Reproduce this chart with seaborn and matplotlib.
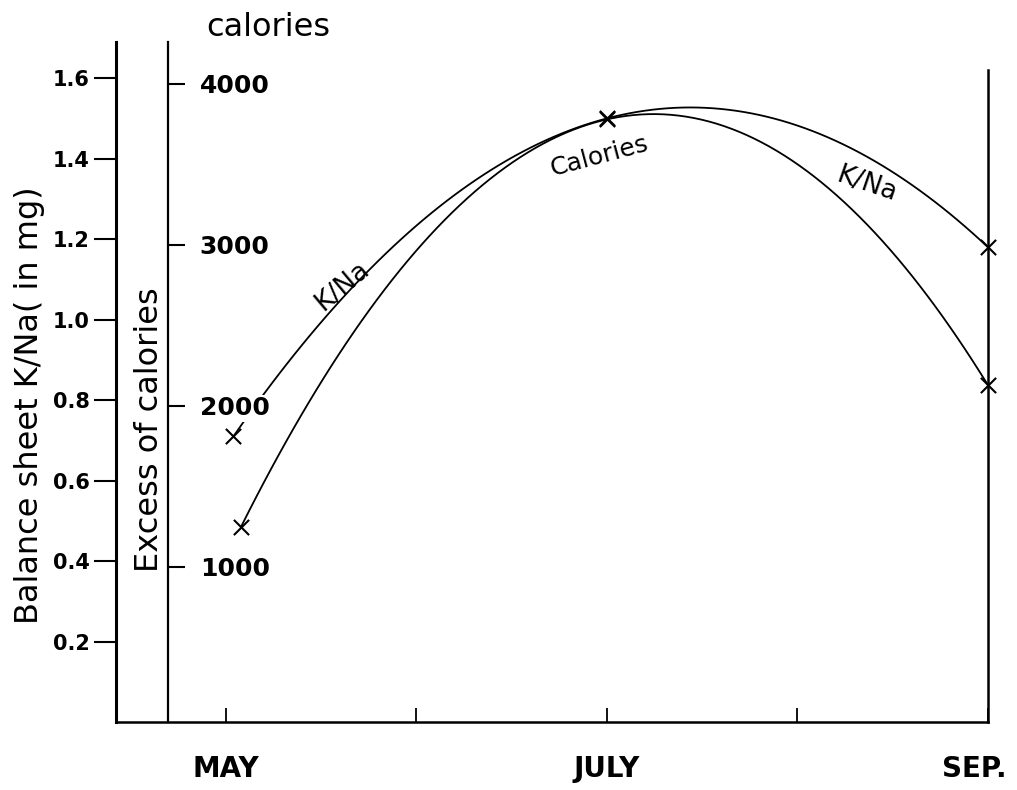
import matplotlib
matplotlib.use('Agg')
import matplotlib.pyplot as plt
from matplotlib.transforms import ScaledTranslation
import seaborn as sns

sns.set_theme(style="ticks", rc={'axes.edgecolor': 'black', 'text.color': 'black',
                                 'xtick.color': 'black', 'ytick.color': 'black',
                                 'axes.labelcolor': 'black'})
plt.rcParams['font.family'] = ['DejaVu Sans']

# ---------------- data ----------------
month_pos = [0, 1, 2, 3, 4]
month_labels = ['MAY', '', 'JULY', '', 'SEP.']

kna_x = [0.04, 2.0, 4.0]
kna = [0.71, 1.50, 1.18]

cal_x = [0.08, 2.0, 4.0]
calories = [1250, 3780, 2130]

kna_ticks = [0.2, 0.4, 0.6, 0.8, 1.0, 1.2, 1.4, 1.6]
cal_ticks = [1000, 2000, 3000, 4000]

# ---------------- figure ----------------
fig = plt.figure(figsize=(10.17, 7.9), dpi=100)
ax = fig.add_axes([0.114, 0.0861, 0.8574, 0.8608])
ax2 = ax.twinx()

line_kw = dict(color='black', lw=1.3)

# K/Na curve (left axis)
sns.regplot(x=kna_x, y=kna, order=2, ci=None, scatter=False, ax=ax, line_kws=line_kw)
sns.scatterplot(x=kna_x, y=kna, marker='x', color='black', s=120, linewidth=1.5,
                ax=ax, clip_on=False, zorder=3)

# calorie curve (inner axis)
sns.regplot(x=cal_x, y=calories, order=2, ci=None, scatter=False, ax=ax2, line_kws=line_kw)
sns.scatterplot(x=cal_x, y=calories, marker='x', color='black', s=120, linewidth=1.5,
                ax=ax2, clip_on=False, zorder=3)

ax.set_xlim(-0.577, 4.0)
ax.set_ylim(0, 1.69)
ax2.set_ylim(37, 4261)

# spines
ax.spines['top'].set_visible(False)
ax.spines['left'].set_linewidth(2.2)
ax.spines['bottom'].set_linewidth(1.8)
ax.spines['right'].set_linewidth(1.8)
ax.spines['right'].set_bounds(0, 1.62)
for s in ['top', 'left', 'bottom']:
    ax2.spines[s].set_visible(False)
ax2.spines['right'].set_position(('axes', 0.0596))
ax2.spines['right'].set_linewidth(1.6)

# ticks
ax.set_xticks(month_pos, labels=month_labels, fontweight='bold')
ax.tick_params(axis='x', direction='in', length=10, width=1.3, pad=24, labelsize=20)
ax.set_yticks(kna_ticks, labels=[f'{v:.1f}' for v in kna_ticks], fontweight='bold')
ax.tick_params(axis='y', direction='out', length=16, width=1.5, pad=3, labelsize=15)

# last month label sits a bit left of its tick, as in the original
sep_lab = ax.get_xticklabels()[-1]
sep_lab.set_transform(sep_lab.get_transform() + ScaledTranslation(-10 / 72, 0, fig.dpi_scale_trans))

ax2.set_yticks(cal_ticks, labels=[str(v) for v in cal_ticks], fontweight='bold')
ax2.tick_params(axis='y', direction='out', length=12, width=1.5, pad=11, labelsize=18)
for lab in ax2.get_yticklabels():
    lab.set_bbox(dict(facecolor='white', edgecolor='none', pad=1))

ax.set_xlabel('')
ax.set_ylabel('')
ax2.set_ylabel('')

# curve labels
ax.text(0.614, 1.082, 'K/Na', rotation=40, ha='center', va='center', fontsize=19)
ax.text(3.365, 1.336, 'K/Na', rotation=-19, ha='center', va='center', fontsize=19)
ax.text(1.963, 1.405, 'Calories', rotation=15, ha='center', va='center', fontsize=18)

# axis titles
fig.text(268 / 1017, 1 - 28 / 790, 'calories', ha='center', va='center', fontsize=23)
fig.text(150 / 1017, 1 - 430 / 790, 'Excess of calories', rotation=90,
         ha='center', va='center', fontsize=23)
fig.text(30 / 1017, 1 - 405 / 790, 'Balance sheet K/Na( in mg)', rotation=90,
         ha='center', va='center', fontsize=23)

fig.savefig('out.png', dpi=100)
